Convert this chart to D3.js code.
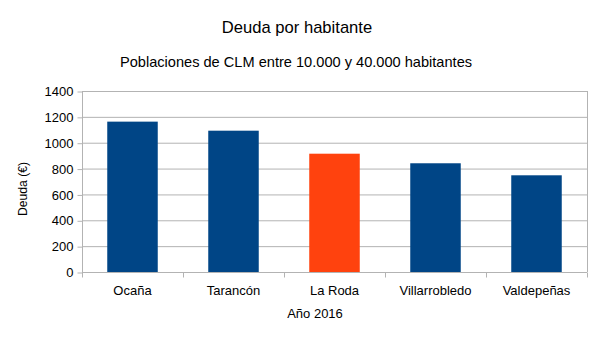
<!DOCTYPE html>
<html>
<head>
<meta charset="utf-8">
<script src="https://cdn.jsdelivr.net/npm/d3@7"></script>
<style>
  body { margin: 0; background: #fff; }
  svg text { font-family: "Liberation Sans", Arial, sans-serif; fill: #000; }
</style>
</head>
<body>
<svg id="chart" width="599" height="340"></svg>
<script>
// debt per inhabitant, towns of CLM between 10.000 and 40.000 inhabitants (2016)
const towns = ['Ocaña', 'Tarancón', 'La Roda', 'Villarrobledo', 'Valdepeñas'];
const debt = [1163, 1093, 915, 841, 748];
const highlight = ['La Roda'];
const yTicks = [0, 200, 400, 600, 800, 1000, 1200, 1400];

const svg = d3.select('#chart');
const margin = { left: 82, right: 12, top: 91, bottom: 68 };
const width = 599, height = 340;

const x = d3.scaleBand()
  .domain(towns)
  .range([margin.left, width - margin.right])
  .paddingInner(0.5)
  .paddingOuter(0.25);

const y = d3.scaleLinear()
  .domain([0, 1400])
  .range([height - margin.bottom, margin.top]);

// horizontal grid
svg.append('g')
  .selectAll('line')
  .data(yTicks)
  .join('line')
  .attr('x1', margin.left)
  .attr('x2', width - margin.right)
  .attr('y1', d => y(d) + 0.5)
  .attr('y2', d => y(d) + 0.5)
  .attr('stroke', '#b3b3b3');

// right border of plot
svg.append('line')
  .attr('x1', width - margin.right + 0.5)
  .attr('x2', width - margin.right + 0.5)
  .attr('y1', y(1400))
  .attr('y2', y(0))
  .attr('stroke', '#b3b3b3');

// bars
svg.append('g')
  .selectAll('rect')
  .data(towns)
  .join('rect')
  .attr('x', d => x(d))
  .attr('width', x.bandwidth())
  .attr('y', (d, i) => y(debt[i]))
  .attr('height', (d, i) => y(0) - y(debt[i]))
  .attr('fill', d => highlight.includes(d) ? '#ff420e' : '#004586');

// y axis
const yAxis = svg.append('g')
  .attr('transform', `translate(${margin.left + 0.5},0.5)`)
  .call(d3.axisLeft(y).tickValues(yTicks).tickSize(5).tickPadding(4).tickFormat(d3.format('d')));
yAxis.select('.domain').attr('stroke', '#b3b3b3').attr('d', `M0,${y(1400) - 0.5}V${y(0) - 0.5}`);
yAxis.selectAll('.tick line').attr('stroke', '#b3b3b3');
yAxis.selectAll('text').style('font-size', '13px').attr('fill', '#000');

// x axis with ticks between bands
const xAxis = svg.append('g')
  .attr('transform', `translate(0,${y(0) + 0.5})`);
xAxis.append('line')
  .attr('x1', margin.left).attr('x2', width - margin.right)
  .attr('stroke', '#b3b3b3');
const bounds = towns.map(t => x(t) - x.step() * x.paddingInner() / 2);
bounds.push(width - margin.right);
xAxis.selectAll('line.tk')
  .data(bounds)
  .join('line')
  .attr('class', 'tk')
  .attr('x1', d => Math.round(d) + 0.5)
  .attr('x2', d => Math.round(d) + 0.5)
  .attr('y1', 0).attr('y2', 5)
  .attr('stroke', '#b3b3b3');
xAxis.selectAll('text')
  .data(towns)
  .join('text')
  .attr('x', d => x(d) + x.bandwidth() / 2)
  .attr('y', 22)
  .attr('text-anchor', 'middle')
  .style('font-size', '13px')
  .text(d => d);

// titles
svg.append('text')
  .attr('x', 297).attr('y', 33)
  .attr('text-anchor', 'middle')
  .style('font-size', '16.6px')
  .text('Deuda por habitante');

svg.append('text')
  .attr('x', 296).attr('y', 66.5)
  .attr('text-anchor', 'middle')
  .style('font-size', '14.6px')
  .text('Poblaciones de CLM entre 10.000 y 40.000 habitantes');

svg.append('text')
  .attr('x', 315).attr('y', 318)
  .attr('text-anchor', 'middle')
  .style('font-size', '13px')
  .text('Año 2016');

svg.append('text')
  .attr('transform', 'translate(27,189) rotate(-90)')
  .attr('text-anchor', 'middle')
  .style('font-size', '12.2px')
  .text('Deuda (€)');
</script>
</body>
</html>
